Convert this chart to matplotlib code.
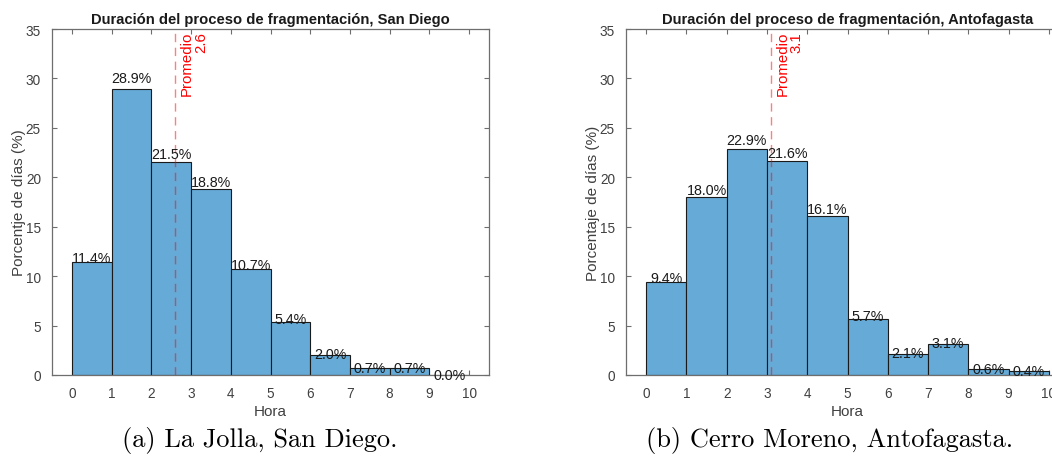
import numpy as np
import matplotlib
matplotlib.use("Agg")
import matplotlib.pyplot as plt

plt.rcParams['font.family'] = ['Liberation Sans', 'DejaVu Sans']

# histogram bins (hours) and percentage of days per bin
bin_edges = np.arange(0, 11, 1)
pct_sandiego = [11.4, 28.9, 21.5, 18.8, 10.7, 5.4, 2.0, 0.7, 0.7, 0.0]
pct_antofagasta = [9.4, 18.0, 22.9, 21.6, 16.1, 5.7, 2.1, 3.1, 0.6, 0.4]
mean_sandiego = 2.6
mean_antofagasta = 3.1

titles = ["Duración del proceso de fragmentación, San Diego",
          "Duración del proceso de fragmentación, Antofagasta"]
ylabels = ["Porcentje de días (%)", "Porcentaje de días (%)"]
captions = ["(a) La Jolla, San Diego.", "(b) Cerro Moreno, Antofagasta."]

bar_color = (0.4, 0.668, 0.845)
axis_gray = "#6e6e6e"
text_gray = "#404040"
fontsize = 9.8

fig = plt.figure(figsize=(10.52, 4.64), dpi=100)
ax1 = fig.add_axes([52/1052, 88/464, 437/1052, 346/464])
ax2 = fig.add_axes([626/1052, 88/464, 443/1052, 346/464])

panels = [(ax1, pct_sandiego, mean_sandiego), (ax2, pct_antofagasta, mean_antofagasta)]
for i, (ax, pct, mean) in enumerate(panels):
    left = bin_edges[:-1]
    ax.bar(left, pct, width=1.0, align="edge", color=bar_color,
           edgecolor="#1a1a1a", linewidth=0.8, zorder=2)
    for x0, v in zip(left, pct):
        ax.text(x0 + 0.5, v * 1.04, f"{v:.1f}%", ha="center", va="center",
                fontsize=fontsize + 0.5, color="#1a1a1a", zorder=4)

    ax.axvline(mean, color="red", alpha=0.5, linestyle=(0, (6, 4)), linewidth=1.0, zorder=3)
    ax.text(mean + 0.12, 34.8, f"Promedio\n{mean:.1f}", rotation=90, color="red",
            ha="left", va="top", multialignment="right", fontsize=fontsize + 1,
            linespacing=1.0, zorder=4)

    ax.set_xlim(-0.5, 10.5)
    ax.set_ylim(0, 35)
    ax.set_xticks(np.arange(0, 11, 1))
    ax.set_yticks(np.arange(0, 36, 5))
    ax.tick_params(direction="in", length=3.5, width=0.8, top=True, right=True,
                   colors=axis_gray, labelcolor=text_gray, labelsize=fontsize, pad=8)
    for sp in ax.spines.values():
        sp.set_color(axis_gray)
        sp.set_linewidth(0.9)

    ax.set_title(titles[i], fontsize=10.6, fontweight="bold", color="#1a1a1a", pad=4)
    ax.set_xlabel("Hora", fontsize=11, color=text_gray, labelpad=3)
    ax.set_ylabel(ylabels[i], fontsize=11, color=text_gray, labelpad=0)

fig.text(260/1052, 1 - 441/464, captions[0], ha="center", va="center",
         family="cmr10", fontsize=19, color="black")
fig.text(830/1052, 1 - 441/464, captions[1], ha="center", va="center",
         family="cmr10", fontsize=19, color="black")

fig.savefig("out.png", dpi=100)
